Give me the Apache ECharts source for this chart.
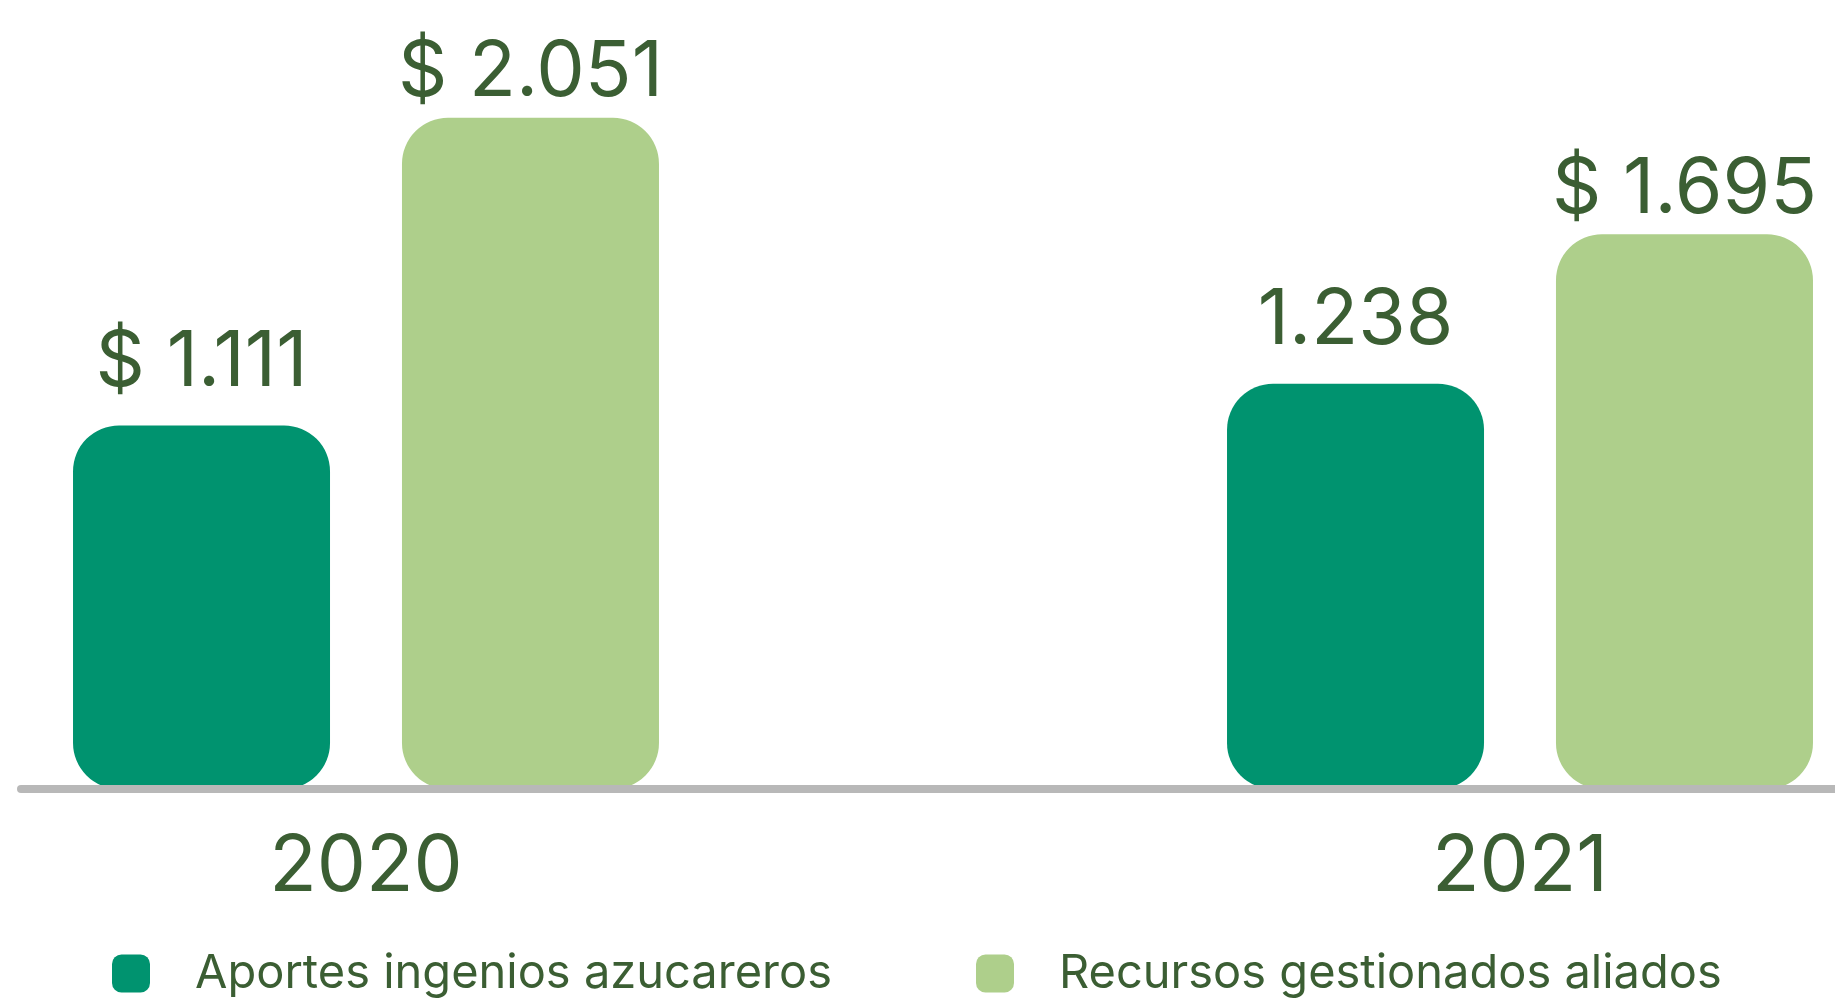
<!DOCTYPE html>
<html>
<head>
<meta charset="utf-8">
<script src="https://cdn.jsdelivr.net/npm/echarts@6/dist/echarts.min.js"></script>
<style>
html,body{margin:0;padding:0;background:#fff}
#chart{width:1835px;height:1000px}
</style>
</head>
<body>
<div id="chart"></div>
<script>
// datos
var years = ['2020', '2021'];
var seriesNames = ['Aportes ingenios azucareros', 'Recursos gestionados aliados'];
var aportes = [1111, 1238];
var recursos = [2051, 1695];
var aportesPrefix = ['$ ', ''];
var recursosPrefix = ['$ ', '$ '];

var verde = '#3b5e33';
var font = 'Inter';

function miles(v) {
	return String(v).replace(/\B(?=(\d{3})+(?!\d))/g, '.');
}

var myChart = echarts.init(document.getElementById('chart'));
var option = {
	backgroundColor: '#fff',
	textStyle: {fontFamily: font},
	grid: [
		// los años caen en los extremos del eje (boundaryGap false)
		{left: 366, right: 315, top: 69, bottom: 211},
		{left: 21, right: 0, top: 69, bottom: 211}
	],
	legend: {
		data: seriesNames,
		left: 112,
		top: 950,
		padding: 0,
		icon: 'roundRect',
		itemWidth: 38,
		itemHeight: 38,
		itemGap: 125,
		textStyle: {
			fontFamily: font,
			fontSize: 47,
			lineHeight: 47,
			color: verde,
			width: 656,
			padding: [0, 0, 0, 40]
		}
	},
	xAxis: [
		{
			type: 'category',
			data: years,
			gridIndex: 0,
			boundaryGap: false,
			axisLine: {show: false},
			axisTick: {show: false},
			splitLine: {show: false},
			axisLabel: {fontSize: 78, color: verde, fontFamily: font, margin: 40}
		},
		{
			type: 'value',
			gridIndex: 1,
			z: 10,
			axisLine: {show: true, lineStyle: {color: '#b8b8b8', width: 8, cap: 'round'}},
			axisTick: {show: false},
			axisLabel: {show: false},
			splitLine: {show: false}
		}
	],
	yAxis: [
		{type: 'value', gridIndex: 0, min: 0, max: 2200, show: false},
		{type: 'value', gridIndex: 1, show: false}
	],
	series: [
		{
			name: seriesNames[0],
			type: 'bar',
			data: aportes,
			clip: false,
			barWidth: 257,
			barGap: '28%',
			itemStyle: {color: '#00936f', borderRadius: 46},
			label: {
				show: true,
				position: 'top',
				distance: 24,
				fontSize: 77,
				fontFamily: font,
				color: verde,
				formatter: function (p) { return aportesPrefix[p.dataIndex] + miles(p.value); }
			}
		},
		{
			name: seriesNames[1],
			type: 'bar',
			data: recursos,
			clip: false,
			barWidth: 257,
			itemStyle: {color: '#aecf8b', borderRadius: 46},
			label: {
				show: true,
				position: 'top',
				distance: 6,
				fontSize: 77,
				fontFamily: font,
				color: verde,
				formatter: function (p) { return recursosPrefix[p.dataIndex] + miles(p.value); }
			}
		}
	]
};
myChart.setOption(option);
</script>
</body>
</html>
